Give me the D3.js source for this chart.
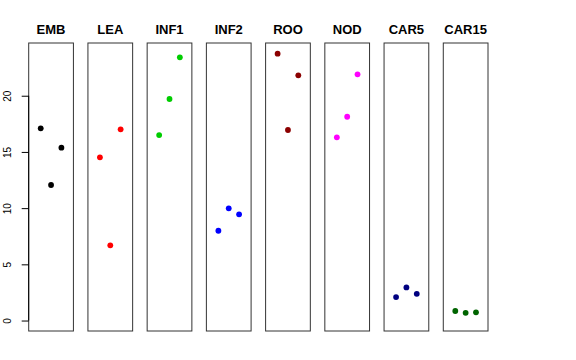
<!DOCTYPE html>
<html>
<head>
<meta charset="utf-8">
<script src="https://cdn.jsdelivr.net/npm/d3@7"></script>
<style>
  html, body { margin: 0; padding: 0; background: #fff; }
  svg { display: block; }
  text { font-family: "Liberation Sans", Arial, Helvetica, sans-serif; }
</style>
</head>
<body>
<svg id="chart" width="576" height="360"></svg>
<script>
// ---- data ----
const categories = ["EMB", "LEA", "INF1", "INF2", "ROO", "NOD", "CAR5", "CAR15"];
const colors = ["#000000", "#FF0000", "#00CD00", "#0000FF", "#8B0000", "#FF00FF", "#000080", "#006400"];
const replicate = [1, 2, 3];
const values = [
  [17.1, 12.06, 15.38],   // EMB
  [14.52, 6.69, 17.01],   // LEA
  [16.5, 19.71, 23.42],   // INF1
  [7.99, 9.98, 9.45],     // INF2
  [23.74, 16.95, 21.81],  // ROO
  [16.3, 18.13, 21.9],    // NOD
  [2.09, 2.95, 2.38],     // CAR5
  [0.85, 0.69, 0.73]      // CAR15
];
const yTicks = [0, 5, 10, 15, 20];

// ---- layout ----
const svg = d3.select("#chart");
const panelTop = 43, panelBottom = 331;

const xBand = d3.scaleBand()
  .domain(categories)
  .range([28.7, 488])
  .paddingInner(0.245)
  .paddingOuter(0);

const y = d3.scaleLinear().domain([-0.93, 24.69]).range([panelBottom, panelTop]);
const xIn = d3.scaleLinear().domain([-0.16, 4.16]).range([0, xBand.bandwidth()]);

categories.forEach((cat, i) => {
  const g = svg.append("g").attr("transform", `translate(${xBand(cat)},0)`);
  g.append("rect")
    .attr("x", 0).attr("y", panelTop)
    .attr("width", xBand.bandwidth()).attr("height", panelBottom - panelTop)
    .attr("fill", "none").attr("stroke", "#333").attr("stroke-width", 1);
  g.append("text")
    .attr("x", xBand.bandwidth() / 2).attr("y", 34)
    .attr("text-anchor", "middle")
    .attr("font-size", "13px").attr("font-weight", "bold")
    .text(cat);
  g.selectAll("circle")
    .data(values[i].map((v, j) => ({ x: replicate[j], v })))
    .enter().append("circle")
    .attr("cx", d => xIn(d.x))
    .attr("cy", d => y(d.v))
    .attr("r", 2.9)
    .attr("fill", colors[i]);
});

// y axis
const axis = d3.axisLeft(y).tickValues(yTicks).tickSize(7).tickSizeOuter(0).tickFormat(d3.format("d"));
const ag = svg.append("g").attr("transform", `translate(${xBand(categories[0])},0)`).call(axis);
ag.select(".domain").attr("d", `M0,${y(0)}V${y(20)}`).attr("stroke", "#000");
ag.selectAll(".tick line").attr("stroke", "#000");
ag.selectAll(".tick text")
  .attr("font-size", "10px")
  .attr("font-family", "Liberation Sans, Arial, sans-serif")
  .attr("fill", "#000")
  .attr("x", 0).attr("dy", null)
  .attr("text-anchor", "middle")
  .attr("transform", "translate(-17.5,0) rotate(-90)")
  .attr("y", 0);
</script>
</body>
</html>
